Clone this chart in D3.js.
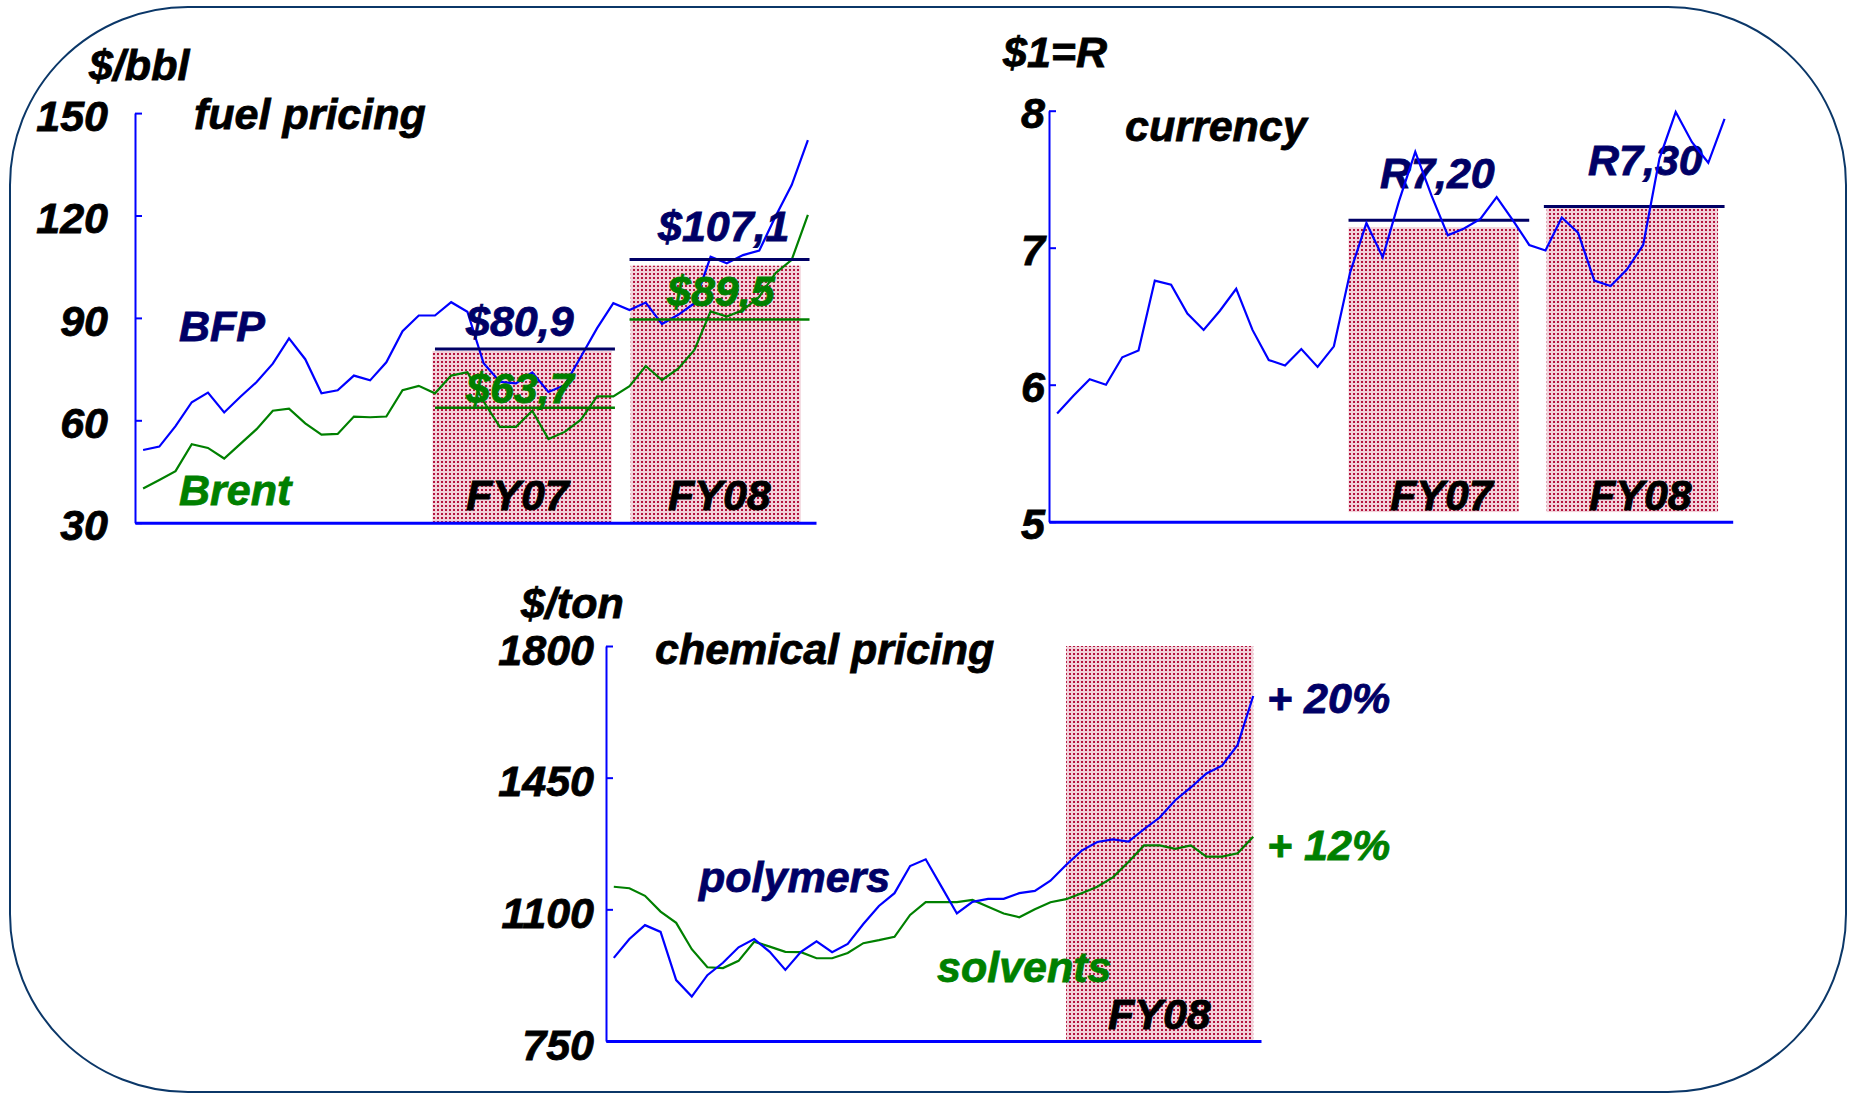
<!DOCTYPE html>
<html>
<head>
<meta charset="utf-8">
<script src="https://d3js.org/d3.v7.min.js"></script>
<style>
  body { margin: 0; background: #fff; }
  text { font-family: "Liberation Sans", Arial, sans-serif; font-weight: bold; font-style: italic; }
</style>
</head>
<body>
<script>
// Fuel pricing ($/bbl), monthly, 42 points
const fuelBFP = [51.3, 52.3, 58.3, 65.3, 68.1, 62.3, 66.9, 71.2, 76.6, 84.0,
                 77.9, 67.9, 68.8, 73.1, 71.7, 77.0, 86.1, 90.7, 90.7, 94.6,
                 91.8, 76.7, 71.3, 70.8, 74.0, 68.3, 70.3, 78.6, 87.0, 94.3,
                 92.3, 94.5, 88.2, 90.9, 94.3, 107.9, 106.0, 108.4, 109.7, 119.7, 128.9, 142.1];
const fuelBrent = [40.0, 42.5, 45.1, 53.0, 51.9, 48.8, 53.1, 57.4, 62.8, 63.4,
                   59.1, 55.8, 56.0, 61.1, 60.9, 61.1, 68.8, 70.1, 67.9, 73.1,
                   74.1, 65.5, 58.1, 58.1, 62.8, 54.5, 56.6, 60.2, 67.0, 67.0,
                   70.0, 75.9, 71.8, 75.1, 80.6, 91.9, 90.4, 92.3, 96.2, 103.1, 107.0, 120.2];
const fuelTicks = [30, 60, 90, 120, 150];
const fuelPeriods = ['FY07', 'FY08'];
const fuelAvgBFP = [80.9, 107.1];
const fuelAvgBrent = [63.7, 89.5];
const fuelAvgLabelsBFP = ['$80,9', '$107,1'];
const fuelAvgLabelsBrent = ['$63,7', '$89,5'];
const fuelBarTop = [80.3, 105.3];
const fuelBarSpan = [[17.85, 28.9], [30.07, 40.56]];
const fuelAvgSpan = [[18, 29.1], [30, 41.1]];

// Currency ($1 = R)
const currRate = [5.79, 5.92, 6.04, 6.00, 6.20, 6.25, 6.76, 6.73, 6.52, 6.40,
                  6.54, 6.70, 6.40, 6.18, 6.14, 6.26, 6.13, 6.28, 6.82, 7.18,
                  6.93, 7.34, 7.70, 7.38, 7.09, 7.14, 7.21, 7.37, 7.20, 7.02,
                  6.98, 7.22, 7.11, 6.76, 6.72, 6.84, 7.02, 7.65, 7.99, 7.77, 7.62, 7.94];
const currTicks = [5, 6, 7, 8];
const currPeriods = ['FY07', 'FY08'];
const currAvg = [7.20, 7.30];
const currAvgLabels = ['R7,20', 'R7,30'];
const currBarTop = [7.15, 7.29];
const currBarBase = 5.07;
const currBarSpan = [[17.9, 28.35], [30.07, 40.6]];
const currAvgSpan = [[17.9, 29], [29.9, 41]];

// Chemical pricing ($/ton)
const chemPolymers = [971, 1021, 1058, 1040, 912, 868, 925, 958, 999, 1021,
                      987, 939, 987, 1015, 986, 1008, 1061, 1109, 1143, 1215,
                      1233, 1161, 1089, 1120, 1128, 1128, 1143, 1149, 1176, 1218,
                      1256, 1279, 1286, 1280, 1313, 1344, 1390, 1424, 1461, 1482, 1537, 1667];
const chemSolvents = [1160, 1156, 1136, 1094, 1064, 994, 946, 944, 963, 1014,
                      1001, 987, 986, 970, 970, 984, 1010, 1018, 1027, 1085,
                      1119, 1119, 1119, 1125, 1107, 1089, 1079, 1100, 1119, 1127,
                      1143, 1160, 1185, 1226, 1270, 1270, 1261, 1270, 1240, 1240, 1249, 1293];
const chemTicks = [750, 1100, 1450, 1800];
const chemPeriods = ['FY08'];
const chemBarSpan = [[29, 41]];
const chemChange = ['+ 20%', '+ 12%'];

const BLUE = '#0000ff', GREEN = '#008000', NAVY = '#000066';
const FS = 43;

const svg = d3.select('body').append('svg')
    .attr('width', 1849)
    .attr('height', 1094);

// Dotted fill used for the fiscal-year blocks
const pat = svg.append('defs').append('pattern')
    .attr('id', 'dots')
    .attr('patternUnits', 'userSpaceOnUse')
    .attr('width', 4).attr('height', 4);
pat.append('rect').attr('width', 4).attr('height', 4).attr('fill', '#f2d2da');
pat.append('rect').attr('x', 1).attr('y', 1).attr('width', 2).attr('height', 2).attr('fill', '#b4143f');

// Rounded frame
svg.append('rect')
    .attr('x', 10).attr('y', 7)
    .attr('width', 1836).attr('height', 1085)
    .attr('rx', 178).attr('ry', 178)
    .attr('fill', 'none')
    .attr('stroke', '#0b3768')
    .attr('stroke-width', 2);

function addText(x, y, str, color, anchor) {
    return svg.append('text')
        .attr('x', x).attr('y', y)
        .attr('fill', color || '#000')
        .attr('stroke', color || '#000')
        .attr('stroke-width', 0.8)
        .attr('text-anchor', anchor || 'start')
        .style('font-size', FS + 'px')
        .text(str);
}

function drawAxes(x, y, ticks, pad, dy) {
    const yAxis = svg.append('g')
        .attr('transform', `translate(${x.range()[0]},0)`)
        .call(d3.axisLeft(y)
            .tickValues(ticks)
            .tickFormat(d3.format('d'))
            .tickSizeInner(-7)
            .tickSizeOuter(0)
            .tickPadding(pad));
    yAxis.select('.domain').attr('stroke', BLUE).attr('stroke-width', 2);
    yAxis.selectAll('.tick line').attr('stroke', BLUE).attr('stroke-width', 2);
    yAxis.selectAll('.tick text')
        .attr('fill', '#000')
        .attr('stroke', '#000')
        .attr('stroke-width', 0.8)
        .attr('dy', dy)
        .style('font-size', FS + 'px');
    yAxis.attr('font-family', null).attr('font-size', null);

    const xAxis = svg.append('g')
        .attr('transform', `translate(0,${y.range()[0]})`)
        .call(d3.axisBottom(x).tickValues([]).tickSizeOuter(0));
    xAxis.select('.domain').attr('stroke', BLUE).attr('stroke-width', 3);
}

function drawLine(x, y, values, color) {
    svg.append('path')
        .datum(values)
        .attr('fill', 'none')
        .attr('stroke', color)
        .attr('stroke-width', 2.2)
        .attr('stroke-linejoin', 'miter')
        .attr('d', d3.line().x((d, i) => x(i)).y(d => y(d)));
}

function drawBars(x, y, spans, tops, base) {
    svg.selectAll(null)
        .data(spans)
        .enter().append('rect')
        .attr('x', d => x(d[0]))
        .attr('width', d => x(d[1]) - x(d[0]))
        .attr('y', (d, i) => y(tops[i]))
        .attr('height', (d, i) => y(base) - y(tops[i]))
        .attr('fill', 'url(#dots)');
}

function drawAvg(x, y, spans, values, color, width) {
    svg.selectAll(null)
        .data(spans)
        .enter().append('line')
        .attr('x1', d => x(d[0]))
        .attr('x2', d => x(d[1]))
        .attr('y1', (d, i) => y(values[i]))
        .attr('y2', (d, i) => y(values[i]))
        .attr('stroke', color)
        .attr('stroke-width', width);
}

// ---- fuel pricing
const xF = d3.scaleLinear().domain([-0.5, 41.5]).range([135, 816]);
const yF = d3.scaleLinear().domain([30, 150]).range([522.7, 113.1]);

drawBars(xF, yF, fuelBarSpan, fuelBarTop, 30);
drawLine(xF, yF, fuelBrent, GREEN);
drawLine(xF, yF, fuelBFP, BLUE);
drawAvg(xF, yF, fuelAvgSpan, fuelAvgBFP, NAVY, 3);
drawAvg(xF, yF, fuelAvgSpan, fuelAvgBrent, GREEN, 2.5);
drawAxes(xF, yF, fuelTicks, 27, '0.4em');

addText(89, 80, '$/bbl');
addText(194, 129, 'fuel pricing');
addText(179, 341, 'BFP', NAVY);
addText(179, 505, 'Brent', GREEN);
addText(466, 336, fuelAvgLabelsBFP[0], NAVY);
addText(466, 403, fuelAvgLabelsBrent[0], GREEN);
addText(658, 241, fuelAvgLabelsBFP[1], NAVY);
addText(667, 306, fuelAvgLabelsBrent[1], GREEN);
addText(466, 510, fuelPeriods[0]);
addText(668, 510, fuelPeriods[1]);

// ---- currency
const xC = d3.scaleLinear().domain([-0.5, 41.5]).range([1049, 1732.7]);
const yC = d3.scaleLinear().domain([5, 8]).range([521.7, 110.7]);

drawBars(xC, yC, currBarSpan, currBarTop, currBarBase);
drawAvg(xC, yC, currAvgSpan, currAvg, NAVY, 3);
drawAxes(xC, yC, currTicks, 4, '0.4em');

addText(1003, 67, '$1=R');
addText(1125, 141, 'currency');
addText(1380, 188, currAvgLabels[0], NAVY);
addText(1588, 175, currAvgLabels[1], NAVY);
addText(1390, 510, currPeriods[0]);
addText(1589, 510, currPeriods[1]);
drawLine(xC, yC, currRate, BLUE);

// ---- chemical pricing
const xM = d3.scaleLinear().domain([-0.5, 41.5]).range([606, 1261]);
const yM = d3.scaleLinear().domain([750, 1800]).range([1041, 646]);

drawBars(xM, yM, chemBarSpan, [1800], 750);
drawLine(xM, yM, chemSolvents, GREEN);
drawLine(xM, yM, chemPolymers, BLUE);
drawAxes(xM, yM, chemTicks, 12, '0.42em');

addText(521, 618, '$/ton');
addText(655, 664, 'chemical pricing');
addText(699, 892, 'polymers', NAVY);
addText(937, 982, 'solvents', GREEN);
addText(1108, 1029, chemPeriods[0]);
addText(1267, 713, chemChange[0], NAVY);
addText(1267, 860, chemChange[1], GREEN);
</script>
</body>
</html>
